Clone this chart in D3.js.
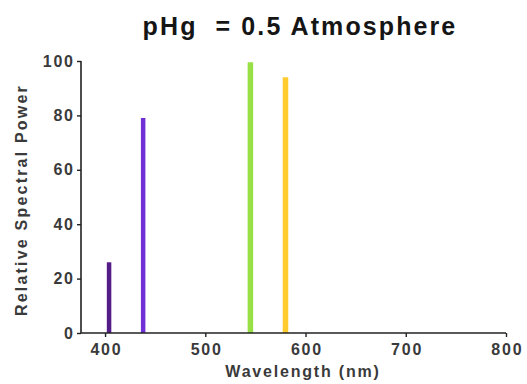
<!DOCTYPE html>
<html>
<head>
<meta charset="utf-8">
<script src="https://cdn.jsdelivr.net/npm/d3@7/dist/d3.min.js"></script>
<style>
  body { margin: 0; background: #fff; }
  text { font-family: "Liberation Sans", Arial, sans-serif; }
</style>
</head>
<body>
<div id="chart"></div>
<script>
// mercury emission lines
const wavelengths = [404, 438, 545, 580];
const powers = [26, 79, 99.5, 94];
const lineColors = ["#541c88", "#7130d6", "#98e046", "#ffcb2e"];

const xTicks = [400, 500, 600, 700, 800];
const yTicks = [0, 20, 40, 60, 80, 100];

const width = 527, height = 384;
const margin = { top: 61, right: 21, bottom: 51, left: 81 };

const svg = d3.select("#chart").append("svg")
  .attr("width", width)
  .attr("height", height);

const x = d3.scaleLinear()
  .domain([376, 800])
  .range([margin.left, width - margin.right]);

const y = d3.scaleLinear()
  .domain([0, 100])
  .range([height - margin.bottom, margin.top]);

// spectral lines
svg.selectAll("line.spec")
  .data(wavelengths)
  .join("line")
  .attr("class", "spec")
  .attr("x1", d => x(d))
  .attr("x2", d => x(d))
  .attr("y1", y(0))
  .attr("y2", (d, i) => y(powers[i]))
  .attr("stroke", (d, i) => lineColors[i])
  .attr("stroke-width", (d, i) => i < 2 ? 4.5 : 5.5);

// axes
const xAxis = svg.append("g")
  .attr("transform", `translate(0,${y(0)})`)
  .call(d3.axisBottom(x).tickValues(xTicks).tickSize(4).tickPadding(7));

const yAxis = svg.append("g")
  .attr("transform", `translate(${x.range()[0]},0)`)
  .call(d3.axisLeft(y).tickValues(yTicks).tickSize(4).tickPadding(4));

[xAxis, yAxis].forEach(g => {
  g.select(".domain").attr("stroke", "#222").attr("stroke-width", 1.6);
  g.selectAll(".tick line").attr("stroke", "#222").attr("stroke-width", 1.4);
  g.selectAll(".tick text")
    .attr("fill", "#3a3a3a")
    .style("font-size", "16px")
    .style("font-weight", "bold")
    .style("letter-spacing", "1.8px")
    .style("font-family", "'Liberation Sans', Arial, sans-serif");
});
// plain axis lines without end caps
xAxis.select(".domain").attr("d", `M${x.range()[0]},0H${x.range()[1]}`);
yAxis.select(".domain").attr("d", `M0,${y.range()[0]}V${y.range()[1]}`);
// letter-spacing leaves a gap after the last digit, nudge back
xAxis.selectAll(".tick text").attr("dx", "0.9px");
yAxis.selectAll(".tick text").attr("dx", "1.8px");

// title
svg.append("text")
  .attr("x", 300)
  .attr("y", 35)
  .attr("text-anchor", "middle")
  .attr("fill", "#151515")
  .attr("xml:space", "preserve")
  .style("font-size", "25px")
  .style("font-weight", "bold")
  .style("letter-spacing", "2.1px")
  .text("pHg  = 0.5 Atmosphere");

// axis titles
svg.append("text")
  .attr("x", 303)
  .attr("y", 377)
  .attr("text-anchor", "middle")
  .attr("fill", "#3a3a3a")
  .style("font-size", "16px")
  .style("font-weight", "bold")
  .style("letter-spacing", "1.8px")
  .text("Wavelength (nm)");

svg.append("text")
  .attr("transform", `translate(27,${(y(0) + y(100)) / 2 + 3}) rotate(-90)`)
  .attr("text-anchor", "middle")
  .attr("fill", "#3a3a3a")
  .style("font-size", "16px")
  .style("font-weight", "bold")
  .style("letter-spacing", "2.2px")
  .text("Relative Spectral Power");
</script>
</body>
</html>
